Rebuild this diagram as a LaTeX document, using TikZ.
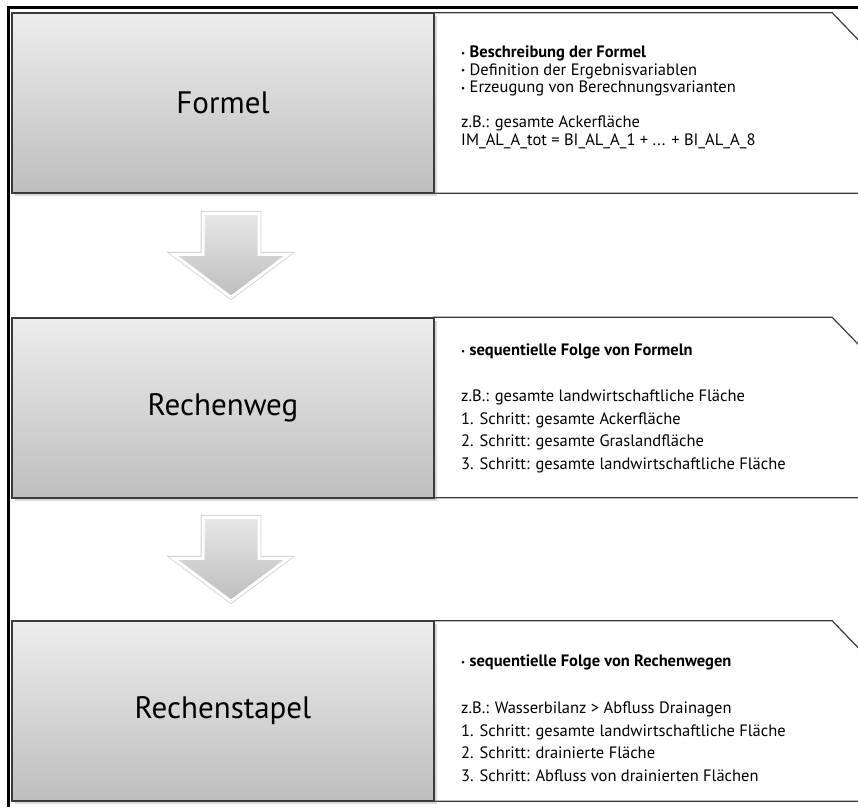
\documentclass[tikz,border=0pt]{standalone}
\usepackage{fontspec}
\setmainfont{PT Sans}
\usetikzlibrary{calc,shadows}

\definecolor{rahmen}{HTML}{3A3A3A}
\definecolor{grauoben}{HTML}{EDEDED}
\definecolor{grauunten}{HTML}{BEBEBE}
\definecolor{pfeiloben}{HTML}{E8E8E8}
\definecolor{pfeilunten}{HTML}{BDBDBD}
\newcommand\pkt{\raisebox{1.5pt}{\fontsize{9}{9}\selectfont\textbullet}~}

\begin{document}
\begin{tikzpicture}[x=1pt,y=-1pt,
    stufe/.style={draw=rahmen, line width=2pt, top color=grauoben, bottom color=grauunten,
      minimum width=422pt, minimum height=180pt, inner sep=0pt,
      font=\fontsize{31}{33}\selectfont,
      drop shadow={shadow xshift=3pt, shadow yshift=-3pt, opacity=.3}},
    info/.style={minimum width=426pt, minimum height=180pt, inner sep=0pt},
    infolinie/.style={draw=rahmen, line width=1.2pt, fill=white},
    liste/.style={anchor=north west, inner sep=0pt, align=left, font=\fontsize{16.5}{17.5}\selectfont},
    pfeil/.style={preaction={draw=black!18, line width=4.6pt}, draw=white, line width=3pt,
      line join=miter, top color=pfeiloben, bottom color=pfeilunten}]
  \useasboundingbox (0,0) rectangle (858,807);

  % Infokaesten rechts
  \node[info] (formel-info) at (647,103) {};
  \node[info] (rechenweg-info) at (647,407.5) {};
  \node[info] (rechenstapel-info) at (647,711) {};
  \foreach \n in {formel-info, rechenweg-info, rechenstapel-info}
    \draw[infolinie] (\n.south west) -- (\n.north west) -- ([xshift=-28pt]\n.north east)
      -- ([yshift=-29pt]\n.north east) -- (\n.south east) -- cycle;

  % Stufen links
  \node[stufe] (formel) at (223,103) {Formel};
  \node[stufe] (rechenweg) at (223,407.5) {Rechenweg};
  \node[stufe] (rechenstapel) at (223,711) {Rechenstapel};

  % Texte
  \node[liste] (formel-text) at (461,46) {\pkt\textbf{Beschreibung der Formel}\\
    \pkt Definition der Ergebnisvariablen\\
    \pkt Erzeugung von Berechnungsvarianten\\[17.5pt]
    z.B.: gesamte Ackerfläche\\
    IM\_AL\_A\_tot = BI\_AL\_A\_1 + ... + BI\_AL\_A\_8};
  \node[liste, font=\fontsize{16.5}{22.8}\selectfont] (rechenweg-text) at (461,344)
    {\pkt\textbf{sequentielle Folge von Formeln}\\[22.5pt]
    z.B.: gesamte landwirtschaftliche Fläche\\
    1. Schritt: gesamte Ackerfläche\\
    2. Schritt: gesamte Graslandfläche\\
    3. Schritt: gesamte landwirtschaftliche Fläche};
  \node[liste, font=\fontsize{16.5}{22.8}\selectfont] (rechenstapel-text) at (461,655)
    {\pkt\textbf{sequentielle Folge von Rechenwegen}\\[23.5pt]
    z.B.: Wasserbilanz > Abfluss Drainagen\\
    1. Schritt: gesamte landwirtschaftliche Fläche\\
    2. Schritt: drainierte Fläche\\
    3. Schritt: Abfluss von drainierten Flächen};

  % Blockpfeile
  \foreach \a/\b in {formel/rechenweg, rechenweg/rechenstapel} {
    \coordinate (p) at ($(\a.south)!0.5!(\b.north)+(8,0)$);
    \draw[pfeil] ($(p)+(-28,-42)$) -- ++(56,0) -- ++(0,41) -- ++(29.5,0)
      -- ($(p)+(0,42)$) -- ++(-57.5,-43) -- ++(29.5,0) -- cycle;
  }

  % Rahmen
  \draw[line width=3pt] (8,807) -- (8,7) -- (858,7);
\end{tikzpicture}
\end{document}
